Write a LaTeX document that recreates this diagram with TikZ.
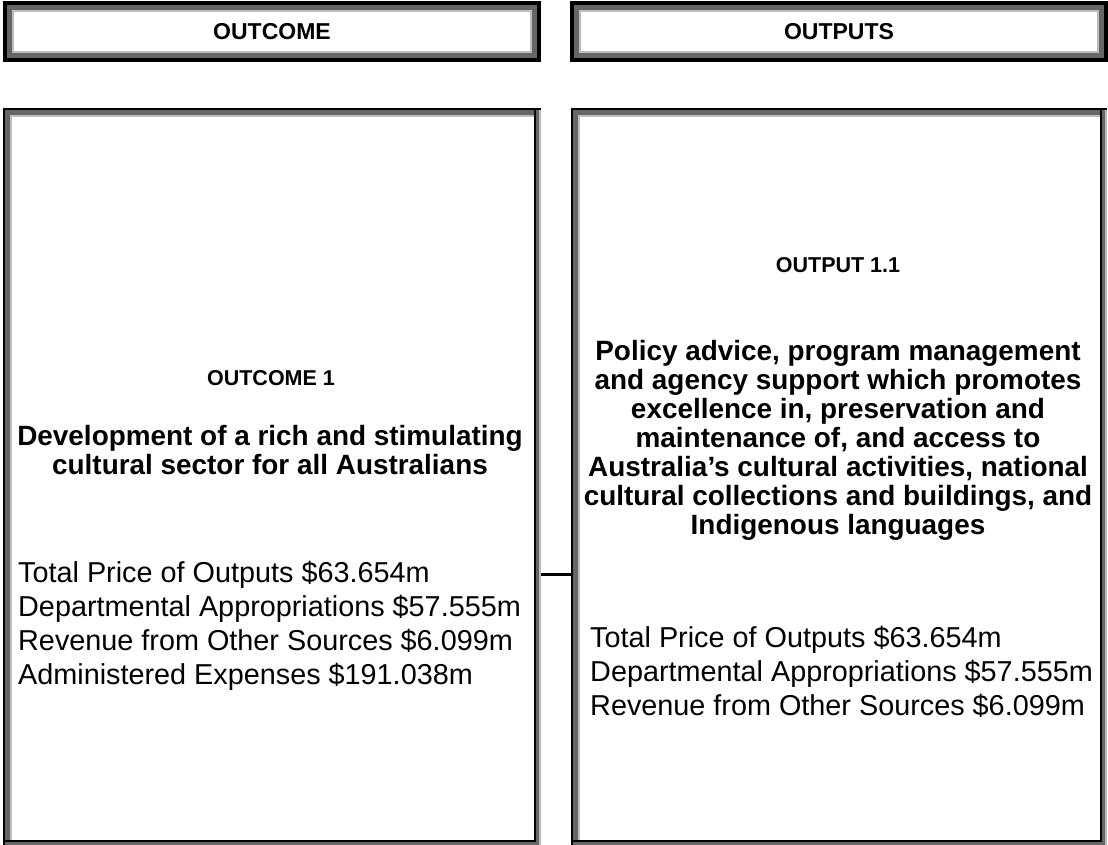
\documentclass[tikz,border=0pt]{standalone}
\usepackage{fontspec}
\setmainfont{Liberation Sans}
\usepackage{tikz}
\usetikzlibrary{
  positioning,
  calc,
}
\definecolor{bandCol}{HTML}{666666}
\definecolor{edgeCol}{HTML}{BDBDBD}
\tikzset{
  % raised frame: black outside, grey band, pale line inside
  bevelbox/.style={
    rectangle, draw=black, line width=4pt, fill=white, inner sep=0pt,
    path picture={
      \draw[edgeCol, line width=18pt] (path picture bounding box.south west)
        rectangle (path picture bounding box.north east);
      \draw[bandCol, line width=14pt] (path picture bounding box.south west)
        rectangle (path picture bounding box.north east);
    },
  },
  % sunken frame: black on the left and top outside, on the right and bottom inside
  sunkbox/.style={
    rectangle, fill=white, inner sep=0pt,
    path picture={
      \coordinate (sw) at (path picture bounding box.south west);
      \coordinate (ne) at (path picture bounding box.north east);
      \coordinate (nw) at (path picture bounding box.north west);
      \coordinate (se) at (path picture bounding box.south east);
      \fill[bandCol] (sw) rectangle (ne);
      \fill[white] ([shift={(9pt,7pt)}]sw) rectangle ([shift={(-7pt,-9pt)}]ne);
      % pale lines
      \fill[edgeCol] ([shift={(7pt,7pt)}]sw) rectangle ([shift={(9pt,-7pt)}]nw);
      \fill[edgeCol] ([shift={(7pt,-7pt)}]nw) rectangle ([shift={(-7pt,-9pt)}]ne);
      \fill[edgeCol] ([xshift=-2pt]se) rectangle (ne);
      \fill[edgeCol] (sw) rectangle ([yshift=2pt]se);
      % black edges
      \fill[black] (sw) rectangle ([xshift=2pt]nw);
      \fill[black] ([yshift=-2pt]nw) rectangle (ne);
      \fill[black] ([shift={(-7pt,5pt)}]se) rectangle ([shift={(-5pt,-2pt)}]ne);
      \fill[black] ([shift={(2pt,5pt)}]sw) rectangle ([shift={(-5pt,7pt)}]se);
    },
  },
  headbox/.style={
    bevelbox, minimum width=534pt, minimum height=57pt,
    font=\fontsize{23}{26}\selectfont\bfseries,
  },
  panel/.style={
    sunkbox, minimum height=739pt,
  },
  titleText/.style={
    align=center, inner sep=0pt, font=\fontsize{21.5}{26}\selectfont\bfseries,
  },
  descText/.style={
    align=center, inner sep=0pt, font=\fontsize{27.9}{29}\selectfont\bfseries,
  },
  figText/.style={
    align=left, inner sep=0pt, anchor=west, font=\fontsize{28.8}{34}\selectfont,
  },
  link/.style={
    line width=3pt, draw=black,
  },
}

\begin{document}
\begin{tikzpicture}[x=1pt, y=-1pt]
\useasboundingbox (0,0) rectangle (1108,845);

% Column headers
\node[headbox] (outcomeHead) at (272, 31.5) {OUTCOME};
\node[headbox] (outputHead) at (839, 31.5) {OUTPUTS};

% Panels
\node[panel, minimum width=538pt] (outcome) at (272, 477.5) {};
\node[panel, minimum width=536pt] (output) at (839, 477.5) {};

% Outcome panel text
\node[titleText] (outcomeTitle) at (271, 378) {OUTCOME 1};
\node[descText] (outcomeDesc) at (270, 450.5)
  {Development of a rich and stimulating\\cultural sector for all Australians};
\node[figText] (outcomeFigs) at (18, 626)
  {Total Price of Outputs \$63.654m\\
   Departmental Appropriations \$57.555m\\
   Revenue from Other Sources \$6.099m\\
   Administered Expenses \$191.038m};

% Output panel text
\node[titleText] (outputTitle) at (838, 265) {OUTPUT 1.1};
\node[descText] (outputDesc) at (838, 440.5)
  {Policy advice, program management\\
   and agency support which promotes\\
   excellence in, preservation and\\
   maintenance of, and access to\\
   Australia's cultural activities, national\\
   cultural collections and buildings, and\\
   Indigenous languages};
\node[figText] (outputFigs) at (590, 672)
  {Total Price of Outputs \$63.654m\\
   Departmental Appropriations \$57.555m\\
   Revenue from Other Sources \$6.099m};

% Link between panels
\draw[link] (outcome.east |- 0,574) -- (output.west |- 0,574);

\end{tikzpicture}
\end{document}
